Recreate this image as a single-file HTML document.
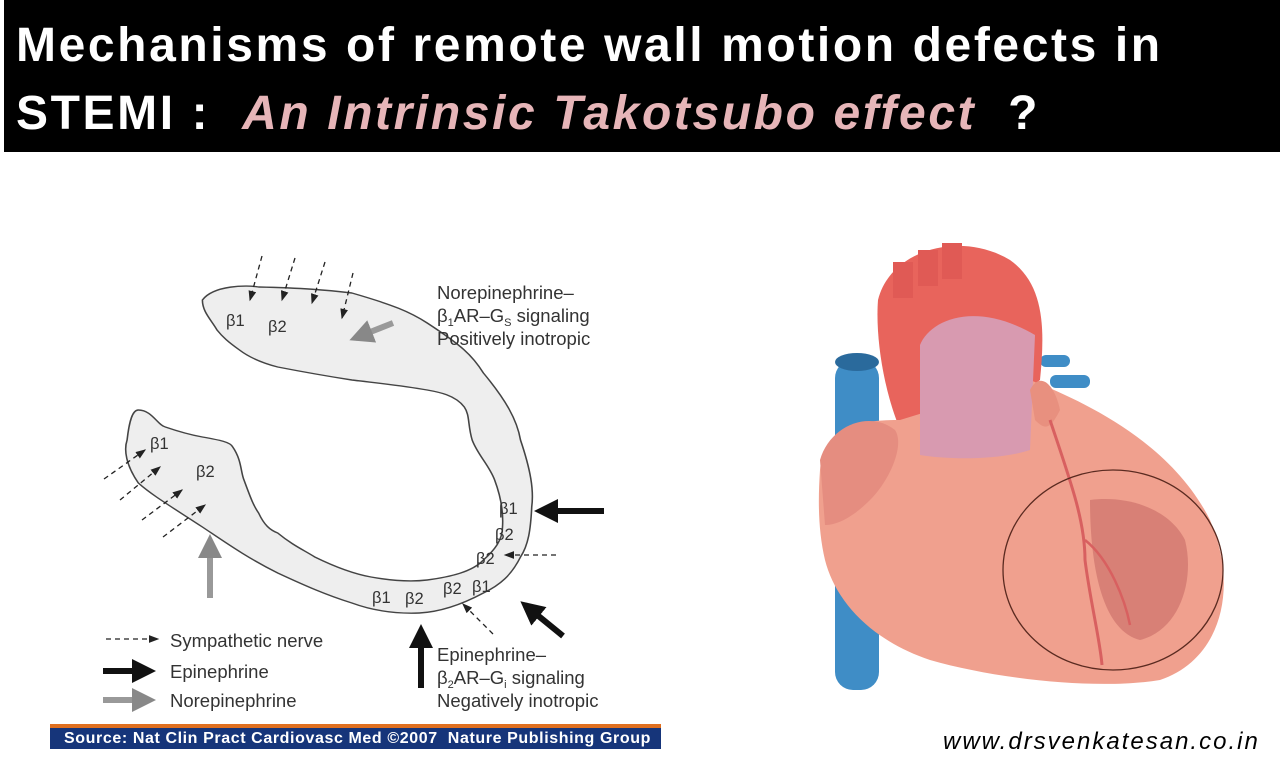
<!DOCTYPE html>
<html><head><meta charset="utf-8"><style>
body{margin:0;width:1280px;height:769px;background:#fff;overflow:hidden;position:relative;font-family:"Liberation Sans",sans-serif}
#title{position:absolute;left:4px;top:0;width:1276px;height:152px;background:#000;color:#fff;font-weight:bold;font-size:48px;letter-spacing:2.6px;line-height:68px;box-sizing:border-box;padding:12px 0 0 12px;white-space:nowrap}
#title i{color:#e6b5b8}
.t{position:absolute;font-size:18.5px;color:#333;line-height:23px}
.t sub{font-size:11px;vertical-align:baseline;position:relative;top:4px;line-height:0}
#src{position:absolute;left:50px;top:724px;width:611px;height:25px;background:#16357a;border-top:4px solid #e07020;box-sizing:border-box;color:#fff;font-weight:bold;font-size:16px;letter-spacing:0.6px;line-height:21px;padding-left:14px;white-space:nowrap}
#web{position:absolute;left:943px;top:728px;font-style:italic;font-size:24px;letter-spacing:2px;color:#000;white-space:nowrap}
</style></head><body>
<div id="title">Mechanisms of remote wall motion defects in<br>STEMI :&nbsp; <i>An Intrinsic Takotsubo effect</i>&nbsp; ?</div>
<svg width="1280" height="769" style="position:absolute;left:0;top:0">
<defs>
<marker id="a" markerWidth="8" markerHeight="8" refX="7" refY="4" orient="auto"><path d="M0,1 L8,4 L0,7z" fill="#222"/></marker>
<marker id="b" markerWidth="4" markerHeight="4" refX="3" refY="2" orient="auto"><path d="M0,0 L4,2 L0,4z" fill="#111"/></marker>
<marker id="g" markerWidth="4" markerHeight="4" refX="3" refY="2" orient="auto"><path d="M0,0 L4,2 L0,4z" fill="#888"/></marker>
</defs>
<g transform="translate(90,0) scale(1.124,1) translate(-90,0)">
<path d="M190,300 C200,285 230,285 240,287 C280,288 300,290 323,293 C360,305 375,312 390,323 C420,345 430,355 440,373 C460,400 470,420 473,440 C482,470 485,490 483,507 C482,530 480,545 473,557 C465,575 455,585 440,593 C420,605 400,612 383,613 C360,614 340,610 323,603 C300,595 280,585 257,573 C230,558 210,542 190,527 C160,505 145,495 133,483 C122,465 120,450 123,440 C125,420 128,410 133,410 C145,410 150,425 157,427 C170,432 180,435 190,437 C205,440 215,442 217,447 C225,460 224,472 227,480 C232,495 235,505 240,513 C245,525 250,530 257,533 C270,545 280,550 290,557 C310,568 325,574 340,577 C360,581 375,582 390,580 C410,577 430,572 440,560 C450,550 457,540 457,527 C458,510 455,495 450,480 C445,465 435,455 430,440 C426,425 428,415 423,407 C415,395 400,392 390,390 C365,385 345,383 323,380 C300,376 280,372 257,367 C240,362 230,356 223,350 C213,342 208,337 203,330 C198,320 190,312 190,300z" fill="#eee" stroke="#444" stroke-width="1.4"/>
</g>
<g stroke="#222" stroke-width="1.3" stroke-dasharray="5,4" fill="none" marker-end="url(#a)">
<line x1="262" y1="256" x2="250" y2="300"/><line x1="295" y1="258" x2="282" y2="300"/><line x1="325" y1="262" x2="312" y2="303"/><line x1="353" y1="273" x2="342" y2="318"/>
<line x1="104" y1="479" x2="145" y2="450"/><line x1="120" y1="500" x2="160" y2="467"/><line x1="142" y1="520" x2="182" y2="490"/><line x1="163" y1="537" x2="205" y2="505"/>
<line x1="556" y1="555" x2="505" y2="555"/><line x1="493" y1="634" x2="463" y2="604"/>
</g>
<g stroke="#999" stroke-width="6" fill="none" marker-end="url(#g)">
<line x1="393" y1="323" x2="355" y2="338"/><line x1="210" y1="598" x2="210" y2="540"/>
</g>
<g stroke="#111" stroke-width="6" fill="none" marker-end="url(#b)">
<line x1="604" y1="511" x2="540" y2="511"/><line x1="563" y1="636" x2="525" y2="605"/><line x1="421" y1="688" x2="421" y2="630"/>
</g>
<line x1="106" y1="639" x2="158" y2="639" stroke="#222" stroke-width="1.3" stroke-dasharray="5,4" marker-end="url(#a)"/>
<line x1="103" y1="671" x2="150" y2="671" stroke="#111" stroke-width="6" marker-end="url(#b)"/>
<line x1="103" y1="700" x2="150" y2="700" stroke="#999" stroke-width="6" marker-end="url(#g)"/>
<g font-family="Liberation Sans" font-size="16.5" fill="#333">
<text x="226" y="326">β1</text><text x="268" y="332">β2</text>
<text x="150" y="449">β1</text><text x="196" y="477">β2</text>
<text x="499" y="514">β1</text><text x="495" y="540">β2</text><text x="476" y="564">β2</text><text x="443" y="594">β2</text><text x="472" y="592">β1</text>
<text x="372" y="603">β1</text><text x="405" y="604">β2</text>
</g>
<!-- heart -->
<rect x="835" y="360" width="44" height="330" rx="18" fill="#3f8dc6"/>
<ellipse cx="857" cy="362" rx="22" ry="9" fill="#2a6a9c"/>
<rect x="1040" y="355" width="30" height="12" rx="6" fill="#3f8dc6"/>
<rect x="1050" y="375" width="40" height="13" rx="6" fill="#3f8dc6"/>
<path d="M878,300 C890,250 960,230 1010,260 C1045,285 1045,330 1040,380 L990,420 L905,440 C885,400 875,340 878,300z" fill="#e8645c"/>
<rect x="893" y="262" width="20" height="36" fill="#e05a55"/><rect x="918" y="250" width="20" height="36" fill="#e05a55"/><rect x="942" y="243" width="20" height="36" fill="#e05a55"/>
<path d="M820,470 C825,430 850,420 900,420 L1030,380 C1080,400 1170,440 1210,520 C1240,590 1220,660 1160,680 C1100,690 1000,680 930,660 C870,640 835,600 825,560 C818,530 818,500 820,470z" fill="#f0a08e"/>
<path d="M920,345 C930,320 975,300 1035,335 L1030,450 C1000,460 950,460 920,455z" fill="#d89ab0"/>
<path d="M820,460 C830,425 870,410 895,430 C905,445 890,480 870,500 C850,520 835,525 825,525z" fill="#e58d80"/>
<path d="M1030,390 C1040,370 1055,385 1060,410 C1050,430 1045,430 1035,420z" fill="#e8907f"/>
<path d="M1090,500 C1130,495 1170,510 1185,540 C1195,580 1180,630 1140,640 C1100,630 1090,560 1090,500z" fill="#c86a66" opacity="0.6"/>
<path d="M1050,420 C1070,480 1085,520 1085,560 C1090,600 1100,640 1102,665" stroke="#d86060" stroke-width="3" fill="none"/>
<path d="M1085,540 C1110,560 1125,600 1130,625" stroke="#d86060" stroke-width="2.5" fill="none"/>
<ellipse cx="1113" cy="570" rx="110" ry="100" fill="none" stroke="#5a2a20" stroke-width="1.3"/>
</svg>
<div class="t" style="left:437px;top:281px">Norepinephrine–<br>β<sub>1</sub>AR–G<sub>S</sub> signaling<br>Positively inotropic</div>
<div class="t" style="left:437px;top:643px">Epinephrine–<br>β<sub>2</sub>AR–G<sub>i</sub> signaling<br>Negatively inotropic</div>
<div class="t" style="left:170px;top:629px">Sympathetic nerve</div>
<div class="t" style="left:170px;top:660px">Epinephrine</div>
<div class="t" style="left:170px;top:689px">Norepinephrine</div>
<div id="src">Source: Nat Clin Pract Cardiovasc Med ©2007&nbsp; Nature Publishing Group</div>
<div id="web">www.drsvenkatesan.co.in</div>
</body></html>
